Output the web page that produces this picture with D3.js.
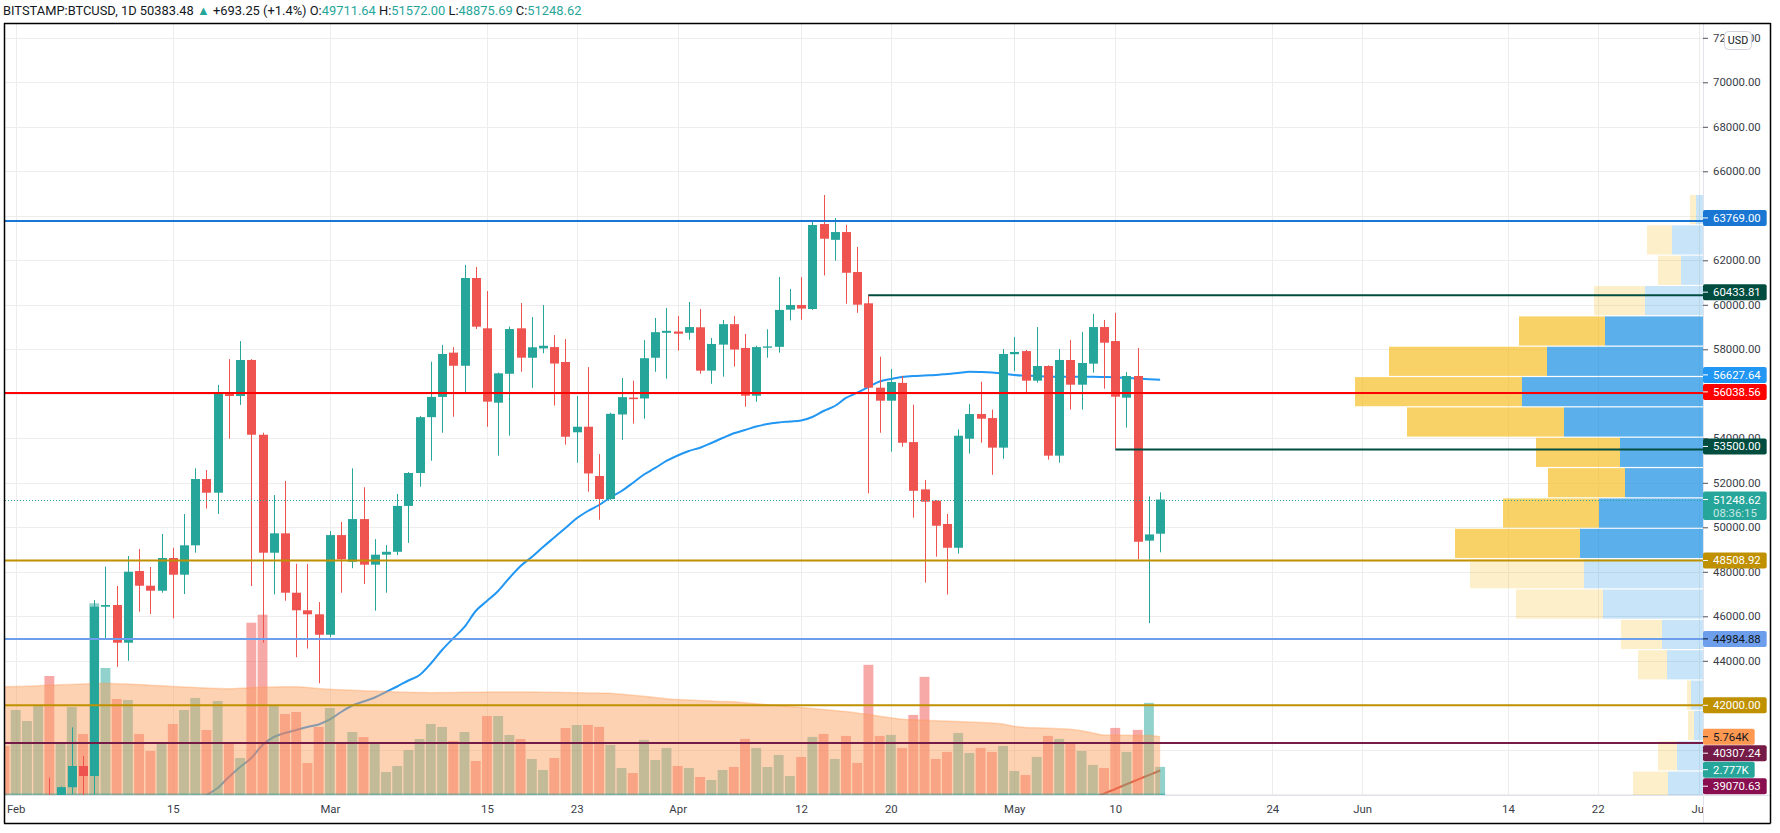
<!DOCTYPE html>
<html><head><meta charset="utf-8">
<script src="https://cdn.jsdelivr.net/npm/d3@7"></script>
<style>
html,body{margin:0;padding:0;background:#fff;}
svg{display:block;font-family:Roboto,"Liberation Sans",sans-serif;}
</style></head><body>
<svg id="chart" width="1780" height="833"></svg>
<script>
// ===================== DATA =====================
const headerSymbol = "BITSTAMP:BTCUSD, 1D";
const headerLast = 50383.48;
const headerChange = 693.25;
const headerChangePct = 1.4;
const countdown = "08:36:15";
const currencyLabel = "USD";

const dates = [
"2021-01-31",
"2021-02-01","2021-02-02","2021-02-03","2021-02-04","2021-02-05","2021-02-06","2021-02-07","2021-02-08","2021-02-09","2021-02-10",
"2021-02-11","2021-02-12","2021-02-13","2021-02-14","2021-02-15","2021-02-16","2021-02-17","2021-02-18","2021-02-19","2021-02-20",
"2021-02-21","2021-02-22","2021-02-23","2021-02-24","2021-02-25","2021-02-26","2021-02-27","2021-02-28",
"2021-03-01","2021-03-02","2021-03-03","2021-03-04","2021-03-05","2021-03-06","2021-03-07","2021-03-08","2021-03-09","2021-03-10",
"2021-03-11","2021-03-12","2021-03-13","2021-03-14","2021-03-15","2021-03-16","2021-03-17","2021-03-18","2021-03-19","2021-03-20",
"2021-03-21","2021-03-22","2021-03-23","2021-03-24","2021-03-25","2021-03-26","2021-03-27","2021-03-28","2021-03-29","2021-03-30","2021-03-31",
"2021-04-01","2021-04-02","2021-04-03","2021-04-04","2021-04-05","2021-04-06","2021-04-07","2021-04-08","2021-04-09","2021-04-10",
"2021-04-11","2021-04-12","2021-04-13","2021-04-14","2021-04-15","2021-04-16","2021-04-17","2021-04-18","2021-04-19","2021-04-20",
"2021-04-21","2021-04-22","2021-04-23","2021-04-24","2021-04-25","2021-04-26","2021-04-27","2021-04-28","2021-04-29","2021-04-30",
"2021-05-01","2021-05-02","2021-05-03","2021-05-04","2021-05-05","2021-05-06","2021-05-07","2021-05-08","2021-05-09","2021-05-10",
"2021-05-11","2021-05-12","2021-05-13","2021-05-14"];

const openP = [34270,
33114,33533,35510,37472,36926,38320,39272,38822,46431,46507,
44812,48035,47374,47150,48620,47870,49190,52170,51555,56022,
55900,57520,54160,48858,49730,47060,46270,46090,
45170,49650,48450,50370,48320,48770,48900,50960,52440,54950,
55860,57850,57260,61204,58943,55600,56900,58943,57620,58040,
58100,57430,54270,54520,52305,51270,55070,55830,55790,57620,58740,
58800,58740,58990,57040,58210,59130,58060,55915,58070,58110,
59780,59990,59810,63630,62920,63270,61473,60067,56275,55690,
56490,53830,51705,51200,50150,49080,53980,55090,54910,53580,
57780,57920,56590,57250,53220,57520,56410,57355,59000,58370,
55825,56800,49400,49711.64];

const highP = [34300,
34717,35984,37662,38742,38350,41010,39722,46730,48230,47362,
48710,49025,48215,49700,49080,50600,52650,52575,56396,57560,
58370,57560,54250,51450,52080,48360,48350,46640,
49830,50240,52650,51800,49470,49200,51500,52480,55000,57440,
58190,58100,61790,61700,60620,56950,59020,60080,59450,59990,
58640,58460,55900,57200,53290,55150,56710,56590,58420,59410,59855,
59500,60130,59810,58510,59320,59500,58690,58160,58900,61250,
60710,61250,63810,64935,63900,63590,62600,60455,57670,57110,
56810,55510,52130,51220,50600,54400,55540,56540,55290,58010,
58550,57970,59000,57280,58010,58420,58780,59590,59320,59640,
56980,58060,51390,51572.00];

const lowP = [32200,
32296,33418,35362,36161,36600,38000,37351,38000,45020,43727,
44000,46207,46105,47060,45910,47000,48860,50840,50600,53980,
55500,47360,44813,46990,46700,44160,44550,42990,
45053,47060,48160,47450,46250,47060,48750,49300,51825,52990,
54250,54970,56050,58910,54520,53220,54120,56990,56270,57820,
55470,53710,52900,51600,50340,51230,53930,54660,54880,56990,56680,
57940,58430,56900,56450,56770,57220,55420,55640,57620,57850,
59300,59330,59770,61320,61980,60050,59640,51527,54250,53400,
53620,50430,47510,48680,46975,48815,53310,53800,52360,53080,
57020,56050,56500,53040,52900,55290,55290,56950,56230,53530,
54480,48560,45690,48875.69];

const closeP = [33114,
33533,35510,37472,36926,38320,39272,38822,46431,46507,44812,
48005,47374,47150,48620,47870,49190,52170,51555,56022,55900,
57520,54160,48858,49730,47060,46270,46090,45170,
49650,48560,50370,48320,48770,48900,50960,52440,54950,55860,
57790,57260,61204,59016,55647,56920,58910,57623,58090,58160,
57360,54070,54520,52420,51270,55100,55850,55760,57600,58770,58830,
58700,59000,57040,58240,59130,57990,55915,58100,58130,59770,
59990,59830,63586,62970,63270,61440,60005,56275,55690,56530,
53800,51640,51150,50070,49080,54115,55090,54880,53580,57790,
57880,56590,57250,53220,57520,56410,57385,59000,58297,55870,
56800,49350,49680,51248.62];

const volume = [4851,
8403,7316,8829,11764,5100,8700,6030,18950,12556,9491,
9392,6030,4350,5042,7019,8403,9590,6426,9293,5042,
3658,17034,17825,8868,8008,8206,3164,6723,
8601,5042,6228,5734,5042,2274,2867,4449,5536,7019,
6723,5339,6228,3361,7810,7810,5932,5536,3559,2472,
3658,6624,6920,6930,6733,4950,2673,2178,5445,3465,4653,
2871,2673,1782,1485,2475,2772,5544,4653,2772,3960,
1881,3762,5742,6039,3564,5841,3168,12871,5841,5940,
4653,7920,11682,3564,4257,6138,4158,4653,4257,4851,
2376,1980,3762,5841,5544,5148,4356,2970,2673,6633,
4257,6435,9108,2777];

const volumeMA = [10707,
10727,10756,10806,10855,10895,10934,10974,11024,11033,11004,
10974,10915,10855,10796,10727,10677,10618,10578,10539,10509,
10549,10598,10648,10677,10697,10707,10628,10529,
10450,10400,10361,10311,10272,10232,10183,10153,10133,10114,
10124,10143,10153,10163,10173,10183,10183,10183,10173,10163,
10153,10133,10114,10094,10074,10054,9956,9857,9758,9649,9520,
9441,9392,9342,9293,9243,9214,9125,9026,8927,8838,
8739,8640,8541,8443,8344,8245,8107,7948,7790,7632,
7484,7434,7395,7345,7306,7257,7207,7168,7118,7019,
6792,6683,6644,6604,6555,6505,6347,6130,5932,5912,
5902,5882,5873,5764];

// 50-day SMA (blue): values from 2021-02-17 to 2021-05-14 (earlier values lie below the chart)
const smaBlueTail = [37650,37968,38283,38778,39228,39630,40216,40575,40755,40890,
41025,41137,41362,41699,41991,42171,42351,42598,42845,43115,
43362,43879,44485,45012,45520,46239,46688,47138,47722,48261,
48666,49115,49542,49969,50404,50733,51003,51340,51632,51992,
52374,52666,52980,53228,53430,53578,53789,54014,54225,54373,
54530,54643,54710,54755,54800,54957,55227,55452,55812,56050,
56306,56553,56665,56755,56800,56822,56845,56890,56935,56993,
56980,56957,56912,56845,56822,56800,56777,56768,56768,56768,
56768,56755,56741,56723,56687,56656,56627.64];

// long moving average (maroon): values from 2021-05-08 to 2021-05-14
const smaMaroonTail = [37840,38030,38240,38450,38660,38865,39070.63];

// Horizontal levels
const levelValues = [63769.00, 60433.81, 56038.56, 53500.00, 48508.92, 44984.88, 42000.00, 40307.24];
const levelStartDates = [null, "2021-04-18", null, "2021-05-10", null, null, null, null];

// Visible-range volume profile (24 rows from the highest high down to the lowest low)
const vpRows = 24;
const vpUpVol   = [70,310,220,580,980,1560,1810,1390,830,780,1040,1230,1190,1000,410,360,120,90,260,350,400,360,300,200];
const vpDownVol = [60,250,230,510,860,1580,1670,1570,840,770,960,1250,1140,870,410,290,40,60,190,350,400,340,300,200];
const vpInValueArea = [0,0,0,0,1,1,1,1,1,1,1,1,0,0,0,0,0,0,0,0,0,0,0,0];

// Axis ticks
const yTicks = [40000,42000,44000,46000,48000,50000,52000,54000,56000,58000,60000,62000,64000,66000,68000,70000,72000];
const xTickDates = ["2021-02-01","2021-02-15","2021-03-01","2021-03-15","2021-03-23","2021-04-01","2021-04-12","2021-04-20","2021-05-01","2021-05-10","2021-05-24","2021-06-01","2021-06-14","2021-06-22","2021-07-01"];

// ===================== DRAWING =====================
const N = dates.length;
const alignTail = tail => { const a = dates.map(()=>null); tail.forEach((v,i)=>{ a[N - tail.length + i] = v; }); return a; };
const smaBlue = alignTail(smaBlueTail);
const smaMaroon = alignTail(smaMaroonTail);

const paneL = 5, paneR = 1703, paneT = 24, paneB = 795, frameR = 1770.5, frameB = 823.5;
const UP = "#26a69a", DOWN = "#ef5350";
const svg = d3.select("#chart");
const parse = d3.utcParse("%Y-%m-%d");
const T = dates.map(parse);

const x = d3.scaleUtc().domain([parse("2021-02-01"), parse("2021-07-01")]).range([15.7, 1698.7]);
const step = x(parse("2021-02-02")) - x(parse("2021-02-01"));
const y = d3.scaleLinear().domain([38000, 72000]).range([794.3, 37.8]);
const yv = d3.scaleLinear().domain([0, 10000]).range([paneB, paneB - 101.15]);

svg.append("rect").attr("width",1780).attr("height",833).attr("fill","#fff");

const defs = svg.append("defs");
defs.append("clipPath").attr("id","pane").append("rect")
  .attr("x",paneL).attr("y",paneT).attr("width",paneR-paneL).attr("height",paneB-paneT);
defs.append("clipPath").attr("id","xaxisclip").append("rect")
  .attr("x",0).attr("y",paneB).attr("width",paneR).attr("height",frameB-paneB);

const pane = svg.append("g").attr("clip-path","url(#pane)");

// grid
const grid = pane.append("g").attr("stroke","#ededed").attr("stroke-width",1);
grid.selectAll(".hg").data([38000, ...yTicks]).join("line")
  .attr("x1",paneL).attr("x2",paneR).attr("y1",d=>Math.round(y(d))+0.5).attr("y2",d=>Math.round(y(d))+0.5);
grid.selectAll(".vg").data(xTickDates).join("line")
  .attr("y1",paneT).attr("y2",paneB).attr("x1",d=>Math.round(x(parse(d)))+0.5).attr("x2",d=>Math.round(x(parse(d)))+0.5);

// moving averages
const lineGen = d3.line().defined(d=>d.v!=null).x(d=>x(d.t)).y(d=>y(d.v)).curve(d3.curveMonotoneX);
pane.append("path").datum(T.map((t,i)=>({t,v:smaBlue[i]})))
  .attr("d",lineGen).attr("fill","none").attr("stroke","#2196f3").attr("stroke-width",2);
pane.append("path").datum(T.map((t,i)=>({t,v:smaMaroon[i]})))
  .attr("d",lineGen).attr("fill","none").attr("stroke","#c62828").attr("stroke-width",2);

// volume bars
const vbw = step*0.88;
pane.append("g").selectAll("rect").data(d3.range(N)).join("rect")
  .attr("x",i=>x(T[i])-vbw/2).attr("width",vbw)
  .attr("y",i=>yv(volume[i])).attr("height",i=>paneB-yv(volume[i]))
  .attr("fill",i=>closeP[i]>=openP[i]?"rgba(38,166,154,0.5)":"rgba(239,83,80,0.5)");

// volume MA area
const areaGen = d3.area().x((d,i)=>x(T[i])).y0(paneB).y1(d=>yv(d)).curve(d3.curveMonotoneX);
pane.append("path").datum(volumeMA).attr("d",areaGen).attr("fill","rgba(251,160,94,0.47)");
pane.append("path").datum(volumeMA).attr("d",d3.line().x((d,i)=>x(T[i])).y(d=>yv(d)).curve(d3.curveMonotoneX))
  .attr("fill","none").attr("stroke","rgba(255,152,80,0.35)").attr("stroke-width",1.5);
pane.append("line").attr("x1",x(T[0])-step/2).attr("x2",x(T[N-1])+vbw/2)
  .attr("y1",paneB-0.75).attr("y2",paneB-0.75).attr("stroke","rgba(38,166,154,0.5)").attr("stroke-width",1.5);

// candles
const cbw = step*0.8;
const candles = pane.append("g").selectAll("g").data(d3.range(N)).join("g")
  .attr("fill",i=>closeP[i]>=openP[i]?UP:DOWN).attr("stroke",i=>closeP[i]>=openP[i]?UP:DOWN);
candles.append("line").attr("x1",i=>Math.round(x(T[i]))+0.5).attr("x2",i=>Math.round(x(T[i]))+0.5)
  .attr("y1",i=>y(highP[i])).attr("y2",i=>y(lowP[i])).attr("stroke-width",1);
candles.append("rect").attr("stroke","none")
  .attr("x",i=>Math.round(x(T[i]))+0.5-cbw/2).attr("width",cbw)
  .attr("y",i=>y(Math.max(openP[i],closeP[i])))
  .attr("height",i=>Math.max(1.2, Math.abs(y(openP[i])-y(closeP[i]))));

// volume profile
const vpHigh = d3.max(highP), vpLow = d3.min(lowP);
const vpBin = (vpHigh - vpLow)/vpRows;
const vpTot = vpUpVol.map((u,i)=>u+vpDownVol[i]);
const vpW = d3.scaleLinear().domain([0,d3.max(vpTot)]).range([0,348]);
const vp = pane.append("g");
d3.range(vpRows).forEach(i=>{
  const top = y(vpHigh - i*vpBin), bot = y(vpHigh - (i+1)*vpBin);
  const h = bot-top-1.2;
  const wu = vpW(vpUpVol[i]), wd = vpW(vpDownVol[i]);
  const va = vpInValueArea[i];
  vp.append("rect").attr("x",paneR-wu).attr("width",wu).attr("y",top).attr("height",h)
    .attr("fill", va ? "rgba(21,141,225,0.7)" : "rgba(21,141,225,0.24)");
  vp.append("rect").attr("x",paneR-wu-wd).attr("width",wd).attr("y",top).attr("height",h)
    .attr("fill", va ? "rgba(246,192,44,0.72)" : "rgba(246,192,44,0.25)");
});

// horizontal levels
const levelStyle = [
  {c:"#1976d2", tc:"#fff"}, {c:"#004d40", tc:"#fff"}, {c:"#ff0000", tc:"#fff"}, {c:"#004d40", tc:"#fff"},
  {c:"#bf9000", tc:"#fff"}, {c:"#6d9eeb", tc:"#131722"}, {c:"#bf9000", tc:"#fff"}, {c:"#741b47", tc:"#fff"}];
levelValues.forEach((v,i)=>{
  const x1 = levelStartDates[i] ? x(parse(levelStartDates[i])) : paneL;
  pane.append("line").attr("x1",x1).attr("x2",paneR).attr("y1",y(v)).attr("y2",y(v))
    .attr("stroke",levelStyle[i].c).attr("stroke-width",2);
});

// current price dotted line
const lastClose = closeP[N-1];
pane.append("line").attr("x1",paneL).attr("x2",paneR).attr("y1",Math.round(y(lastClose))+0.5).attr("y2",Math.round(y(lastClose))+0.5)
  .attr("stroke",UP).attr("stroke-width",1).attr("stroke-dasharray","1,2");

// separators
svg.append("line").attr("x1",paneR+0.5).attr("x2",paneR+0.5).attr("y1",paneT).attr("y2",frameB).attr("stroke","#e0e3eb");
svg.append("line").attr("x1",paneL).attr("x2",frameR).attr("y1",paneB+0.5).attr("y2",paneB+0.5).attr("stroke","#e0e3eb");

// font sizing by measurement
const probe = svg.append("text").attr("font-size",12).text("70000.00");
const axisFS = 12*47.7/probe.node().getComputedTextLength();
probe.remove();

// price axis
const yAxis = d3.axisRight(y).tickValues(yTicks).tickFormat(d3.format(".2f")).tickSize(5).tickPadding(5);
const ya = svg.append("g").attr("transform",`translate(${paneR},0)`).call(yAxis);
ya.select(".domain").remove();
ya.selectAll("line").attr("stroke","#50535e");
ya.selectAll("text").attr("font-size",axisFS).attr("fill","#3a3d47").attr("font-family","Roboto");

// time axis
const fmtMonth = d3.utcFormat("%b"), fmtDay = d3.utcFormat("%-d");
const xAxis = d3.axisBottom(x).tickValues(xTickDates.map(parse))
  .tickFormat(d=>d.getUTCDate()===1?fmtMonth(d):fmtDay(d)).tickSize(0).tickPadding(0);
const xa = svg.append("g").attr("clip-path","url(#xaxisclip)").append("g").attr("transform",`translate(0,${paneB})`).call(xAxis);
xa.select(".domain").remove();
xa.selectAll("text").attr("font-size",axisFS).attr("fill","#3a3d47").attr("dy",null).attr("y",14)
  .attr("dominant-baseline","central").attr("font-family","Roboto");

// axis value labels
const LH = 17;
const fmt2 = d3.format(".2f");
const fmtK = v => (v/1000).toFixed(3)+"K";
const labels = [];
levelValues.forEach((v,i)=>labels.push({ideal:y(v), text:fmt2(v), bg:levelStyle[i].c, fg:levelStyle[i].tc}));
labels.push({ideal:y(smaBlue[N-1]), text:fmt2(smaBlue[N-1]), bg:"#2196f3", fg:"#fff"});
labels.push({ideal:yv(volumeMA[N-1]), text:fmtK(volumeMA[N-1]), bg:"#ff9850", fg:"#131722"});
labels.push({ideal:yv(volume[N-1]), text:fmtK(volume[N-1]), bg:UP, fg:"#fff"});
labels.push({ideal:y(smaMaroon[N-1]), text:fmt2(smaMaroon[N-1]), bg:"#880e4f", fg:"#fff"});
const anchorY = y(lastClose);
const above = labels.filter(l=>l.ideal<anchorY).sort((a,b)=>a.ideal-b.ideal);
const below = labels.filter(l=>l.ideal>anchorY).sort((a,b)=>a.ideal-b.ideal);
// above: merge overlapping groups and center them
let clusters = above.map(it=>({items:[it]}));
const cCenter = c => d3.mean(c.items, d=>d.ideal);
let changed = true;
while(changed){
  changed=false;
  for(let i=0;i<clusters.length-1;i++){
    const a=clusters[i], b=clusters[i+1];
    if(cCenter(a)+a.items.length*LH/2 > cCenter(b)-b.items.length*LH/2){
      clusters.splice(i,2,{items:[...a.items,...b.items]}); changed=true; break;
    }
  }
}
clusters.forEach(c=>{ const top=cCenter(c)-c.items.length*LH/2 - 3; c.items.forEach((it,k)=>it.y=top+LH*k+LH/2); });
// below: push downward
let prev = anchorY + 20;
below.forEach(l=>{ l.y = Math.max(l.ideal, prev + LH/2 - 0.5); prev = l.y + LH/2; });

const lg = svg.append("g").attr("font-family","Roboto").attr("font-size",axisFS);
function drawLabel(l, two){
  const g = lg.append("g");
  const txt = g.append("text").attr("x",1713).attr("y",l.y).attr("dominant-baseline","central")
    .attr("fill",l.fg).text(l.text);
  const w = txt.node().getComputedTextLength();
  const h = two ? 28.5 : 16;
  g.insert("rect","text").attr("x",paneR).attr("y",l.y-8).attr("width",1713+w+6-paneR).attr("height",h)
    .attr("rx",2).attr("fill",l.bg);
  g.insert("line","text").attr("x1",paneR).attr("x2",paneR+5).attr("y1",l.y).attr("y2",l.y).attr("stroke",l.fg);
  return g;
}
labels.forEach(l=>drawLabel(l,false));
const cur = drawLabel({y:anchorY, text:fmt2(lastClose), bg:UP, fg:"#fff"}, true);
cur.append("text").attr("x",1713).attr("y",anchorY+13).attr("dominant-baseline","central")
  .attr("fill","rgba(255,255,255,0.75)").text(countdown);

// currency box
const ub = svg.append("g");
ub.append("rect").attr("x",1724.5).attr("y",31.5).attr("width",27).attr("height",18).attr("rx",4)
  .attr("fill","#fff").attr("stroke","#d1d4dc");
ub.append("text").attr("x",1738).attr("y",40.8).attr("text-anchor","middle").attr("dominant-baseline","central")
  .attr("font-size",axisFS*0.95).attr("fill","#131722").text(currencyLabel);

// frame
const fr = svg.append("g").attr("stroke","#000").attr("stroke-width",1.5);
fr.append("line").attr("x1",4).attr("x2",frameR).attr("y1",23.5).attr("y2",23.5);
fr.append("line").attr("x1",4.5).attr("x2",4.5).attr("y1",23).attr("y2",frameB);
fr.append("line").attr("x1",4).attr("x2",frameR).attr("y1",frameB).attr("y2",frameB);
fr.append("line").attr("x1",frameR).attr("x2",frameR).attr("y1",23).attr("y2",frameB);

// header
const hd = svg.append("text").attr("x",3).attr("y",15).attr("font-size",13).attr("fill","#131722");
const parts = [
  [headerSymbol+"  ", "#131722"],
  [fmt2(headerLast)+" ", "#131722"],
  ["▲", UP],
  [" +"+fmt2(headerChange)+" (+"+headerChangePct+"%) ", "#131722"],
  ["O:", "#131722"], [fmt2(openP[N-1])+" ", UP],
  ["H:", "#131722"], [fmt2(highP[N-1])+" ", UP],
  ["L:", "#131722"], [fmt2(lowP[N-1])+" ", UP],
  ["C:", "#131722"], [fmt2(closeP[N-1]), UP]];
parts.forEach(p=>hd.append("tspan").attr("fill",p[1]).text(p[0]));
const hl = hd.node().getComputedTextLength();
hd.attr("font-size", 13*579/hl);
</script>
</body></html>
